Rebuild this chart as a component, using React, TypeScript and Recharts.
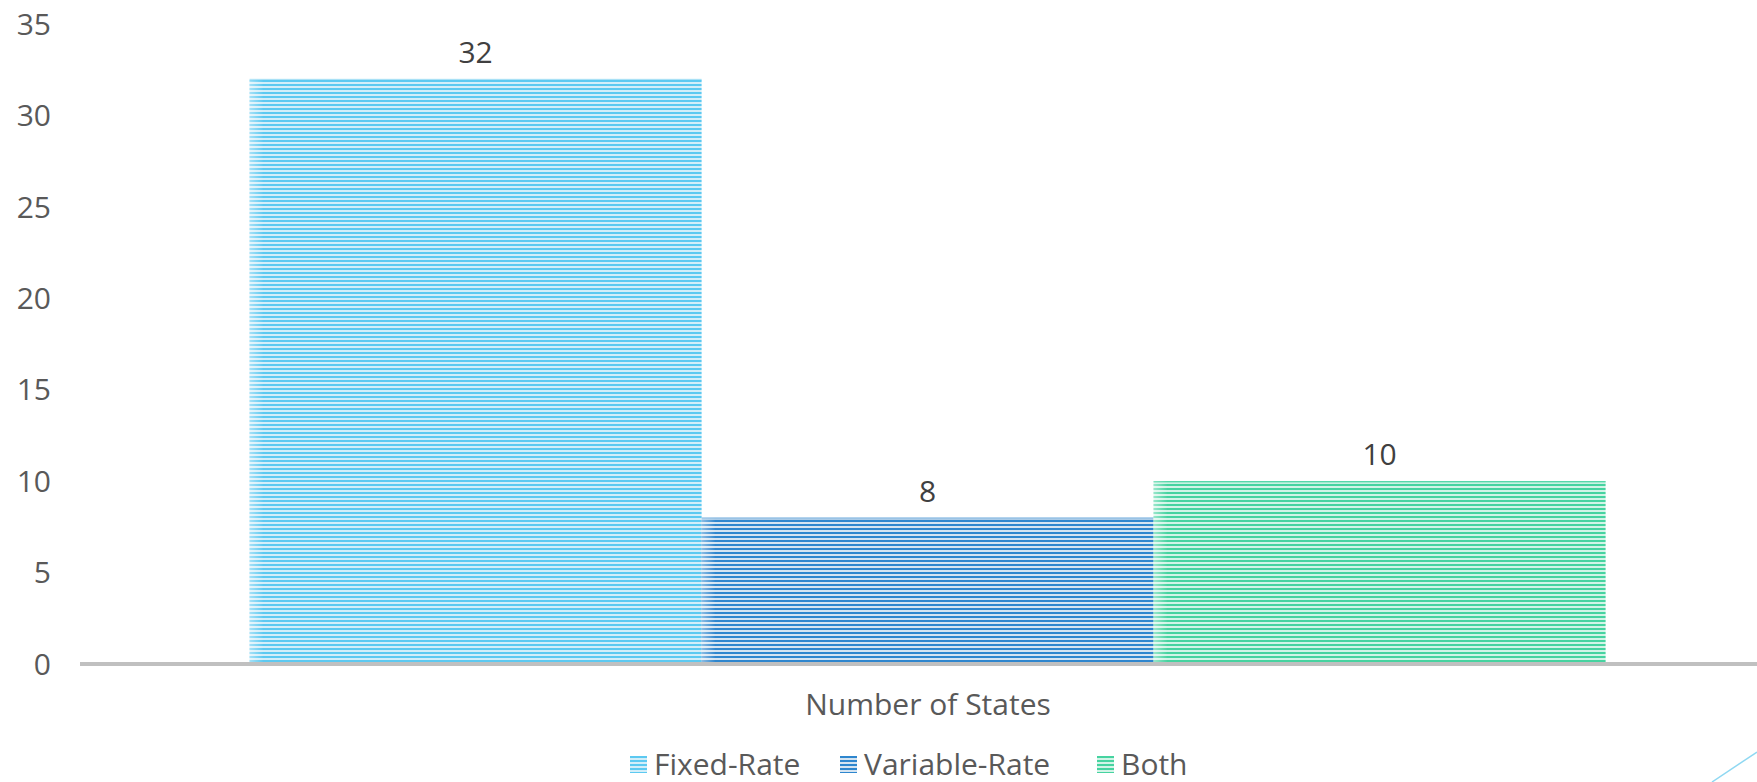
import React from 'react';
import { BarChart, Bar, XAxis, YAxis, Legend, LabelList } from 'recharts';

// Chart data
const categories = ['Number of States'];
const fixedRate = [32];
const variableRate = [8];
const both = [10];
const yTicks = [0, 5, 10, 15, 20, 25, 30, 35];

const seriesInfo = [
  { key: 'fixed', name: 'Fixed-Rate', dark: '#5cc9f1', light: '#d3eef9', pattern: 'stripesFixed', itemWidth: 210 },
  { key: 'variable', name: 'Variable-Rate', dark: '#2e86ce', light: '#d5e4f1', pattern: 'stripesVariable', itemWidth: 257 },
  { key: 'both', name: 'Both', dark: '#46d3a0', light: '#d2f4e7', pattern: 'stripesBoth', itemWidth: 100 }
];

const chartData = categories.map((name, i) => ({
  name,
  fixed: fixedRate[i],
  variable: variableRate[i],
  both: both[i]
}));

const FONT = '"Open Sans", "Noto Sans", sans-serif';

// Bar body: striped fill with a soft light fade along the left edge
const StripedBar = (props: any) => {
  const { x, y, width, height, pattern, dark } = props;
  if (!height || height <= 0) return null;
  return (
    <g>
      <rect x={x} y={y} width={width} height={height} fill={`url(#${pattern})`} />
      <rect x={x} y={y} width={Math.min(14, width)} height={height} fill="url(#edgeFade)" />
      <rect x={x} y={y} width={width} height={2} fill={dark} opacity={0.35} />
    </g>
  );
};

const LegendContent = () => (
  <div style={{ display: 'flex', alignItems: 'center', fontFamily: FONT, fontSize: 30, color: '#595959' }}>
    {seriesInfo.map(s => (
      <div key={s.key} style={{ display: 'flex', alignItems: 'center', width: s.itemWidth }}>
        <span
          style={{
            width: 17,
            height: 17,
            marginRight: 7,
            background: `repeating-linear-gradient(to bottom, ${s.dark} 0px, ${s.dark} 2px, ${s.light} 2px, ${s.light} 4px)`
          }}
        />
        <span style={{ lineHeight: '32px', whiteSpace: 'nowrap' }}>{s.name}</span>
      </div>
    ))}
  </div>
);

const App: React.FC = () => {
  return (
    <div style={{ position: 'absolute', left: 0, top: 0, width: 1757, height: 782, overflow: 'hidden', background: '#fff' }}>
      <BarChart
        width={1776}
        height={782}
        data={chartData}
        margin={{ top: 24, right: 0, left: 0, bottom: 58 }}
        barCategoryGap="10%"
        barGap={0}
      >
        <defs>
          {seriesInfo.map(s => (
            <pattern key={s.pattern} id={s.pattern} width={4} height={4} patternUnits="userSpaceOnUse">
              <rect width={4} height={4} fill={s.light} />
              <rect width={4} height={2} fill={s.dark} />
            </pattern>
          ))}
          <linearGradient id="edgeFade" x1="0" y1="0" x2="1" y2="0">
            <stop offset="0%" stopColor="#ffffff" stopOpacity={0.45} />
            <stop offset="100%" stopColor="#ffffff" stopOpacity={0} />
          </linearGradient>
        </defs>
        <YAxis
          width={80}
          domain={[0, 35]}
          ticks={yTicks}
          axisLine={false}
          tickLine={false}
          tickSize={0}
          tickMargin={29}
          tick={{ fill: '#595959', fontSize: 30, fontFamily: FONT }}
        />
        {seriesInfo.map(s => (
          <Bar
            key={s.key}
            dataKey={s.key}
            name={s.name}
            fill={s.dark}
            isAnimationActive={false}
            shape={(p: any) => <StripedBar {...p} pattern={s.pattern} dark={s.dark} />}
          >
            <LabelList
              dataKey={s.key}
              position="top"
              offset={16}
              fill="#404040"
              fontSize={30}
              fontFamily={FONT}
            />
          </Bar>
        ))}
        <XAxis
          dataKey="name"
          height={60}
          tickLine={false}
          tickSize={0}
          tickMargin={30}
          axisLine={{ stroke: '#c0c0c0', strokeWidth: 4 }}
          tick={{ fill: '#595959', fontSize: 30, fontFamily: FONT }}
        />
        <Legend
          verticalAlign="middle"
          align="center"
          wrapperStyle={{ top: 748, left: 630, width: 'auto' }}
          content={() => <LegendContent />}
        />
      </BarChart>
      {/* decorative corner stroke */}
      <svg style={{ position: 'absolute', left: 1700, top: 740 }} width={57} height={42}>
        <line x1={12} y1={42} x2={57} y2={12} stroke="#8fd8f2" strokeWidth={1.5} />
      </svg>
    </div>
  );
};

export default App;
